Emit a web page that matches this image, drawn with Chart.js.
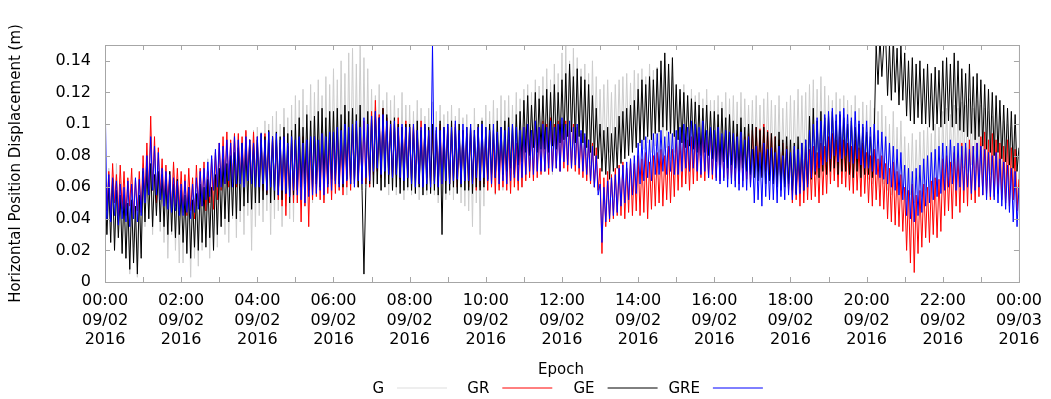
<!DOCTYPE html>
<html>
<head>
<meta charset="utf-8">
<script src="https://cdn.jsdelivr.net/npm/chart.js@4"></script>
<style>
  html, body { margin: 0; padding: 0; background: #fff; }
</style>
</head>
<body>
<canvas id="chart" width="1051" height="399"></canvas>
<script>
// one sample every 3 minutes from 09/02/2016 00:00 to 09/03/2016 00:00
const stepMinutes = 3;

// horizontal position displacement in mm
// (alternating local highs / lows of the noisy trace, one row per half hour)
const seriesG = [
  68,30,72,45,60,25,75,38,64,20,
  62,15,55,5,58,22,48,3,60,18,
  75,35,80,40,70,30,78,45,72,32,
  68,25,70,15,62,30,75,20,60,12,
  60,12,65,20,55,3,62,15,58,10,
  72,20,68,28,78,15,70,30,80,22,
  85,35,80,30,88,25,82,40,90,28,
  92,38,88,30,95,42,90,20,96,35,
  98,42,95,38,102,45,100,30,105,40,
  108,45,100,35,110,48,104,40,112,38,
  118,52,115,55,122,48,112,60,125,50,
  120,55,128,60,118,52,130,58,125,62,
  135,60,128,58,140,65,132,55,145,62,
  148,60,138,65,150,58,142,62,135,60,
  122,60,118,62,125,58,115,65,120,55,
  115,58,118,55,110,60,120,52,112,58,
  112,55,108,58,115,52,110,60,105,55,
  110,58,114,55,108,50,112,56,106,52,
  108,55,112,52,105,58,110,50,104,48,
  106,45,100,35,110,50,98,30,104,48,
  112,58,108,62,115,55,110,60,118,58,
  115,62,118,60,112,65,120,62,116,60,
  122,68,125,70,120,66,128,72,124,70,
  130,70,135,72,128,68,138,75,132,70,
  145,78,150,80,140,75,148,82,142,78,
  135,78,138,80,132,75,140,82,130,78,
  122,80,125,78,128,82,120,76,125,84,
  128,85,130,82,132,86,126,84,134,88,
  132,86,135,84,130,88,138,82,134,86,
  136,82,132,80,140,85,134,78,130,82,
  122,75,120,72,125,76,118,74,122,72,
  118,72,120,70,116,74,122,72,115,70,
  115,74,118,72,114,76,120,74,116,72,
  118,75,114,72,120,76,116,74,112,72,
  115,70,118,72,112,68,116,70,120,72,
  115,66,112,68,118,65,110,70,114,66,
  118,66,115,70,122,68,118,72,120,66,
  125,70,128,68,122,72,130,70,124,68,
  118,70,115,68,120,72,116,66,118,70,
  115,68,112,66,118,70,110,65,114,68,
  112,65,115,62,110,68,108,60,112,62,
  105,58,100,55,108,60,98,56,102,58,
  92,52,88,55,94,50,90,56,95,54,
  96,58,98,60,94,56,100,62,98,60,
  108,66,110,68,106,70,112,66,110,68,
  114,72,112,70,116,74,110,72,115,70,
  112,66,110,64,108,68,105,62,110,65,
  105,58,102,56,100,55,98,52,95,50,
  70
];

const seriesGR = [
  72,45,70,40,75,50,68,42,74,46,
  70,42,66,48,72,40,65,45,70,44,
  80,52,88,55,105,58,92,50,85,55,
  78,48,74,50,70,45,76,48,72,46,
  70,44,68,42,72,45,66,40,74,48,
  72,48,76,45,70,50,78,46,82,52,
  88,58,92,62,95,60,90,64,94,60,
  94,64,92,62,96,66,90,62,95,64,
  92,60,90,58,94,56,88,62,92,60,
  90,52,88,48,92,42,86,55,90,50,
  90,50,88,38,92,48,86,35,90,52,
  92,54,88,52,94,50,90,56,88,52,
  92,56,95,58,90,55,96,60,94,58,
  98,62,100,60,96,64,102,62,98,60,
  108,68,115,70,106,66,110,72,104,68,
  102,66,100,68,104,65,98,70,102,66,
  98,64,100,66,96,62,102,64,98,66,
  96,62,98,64,94,60,100,62,96,64,
  98,62,96,64,100,60,94,62,96,64,
  94,60,96,62,92,58,98,60,95,62,
  92,58,95,60,90,56,94,58,92,60,
  92,58,90,56,94,60,88,58,92,60,
  98,64,100,66,96,64,102,66,98,68,
  102,70,100,68,104,70,100,72,102,70,
  100,72,102,70,98,72,100,70,98,68,
  94,66,92,64,90,62,88,60,85,58,
  72,18,66,35,70,38,68,40,72,42,
  74,42,76,40,72,44,78,42,75,45,
  80,42,78,44,82,40,76,46,80,48,
  82,50,84,48,80,52,86,50,84,54,
  92,58,90,60,94,62,90,58,92,62,
  95,64,94,66,96,64,92,66,95,65,
  94,66,95,64,92,66,96,65,94,66,
  92,64,94,62,90,64,92,65,94,62,
  96,68,98,70,97,67,100,70,96,68,
  94,64,92,62,90,60,88,62,86,58,
  82,50,84,52,80,48,85,50,82,52,
  84,52,86,54,82,50,88,55,86,56,
  92,62,94,64,90,60,92,62,90,60,
  88,58,86,56,90,58,85,54,88,56,
  82,50,80,48,84,52,78,48,80,46,
  75,40,72,38,76,36,70,35,68,32,
  60,20,58,12,62,6,55,18,58,22,
  62,28,60,25,64,30,66,28,65,32,
  78,42,80,45,76,40,82,48,80,44,
  88,50,85,48,90,52,86,50,88,54,
  92,55,95,56,90,52,94,54,90,56,
  88,52,86,50,90,48,85,52,84,45,
  65
];

const seriesGE = [
  62,30,60,25,65,20,58,28,55,18,
  55,15,50,8,52,12,48,5,55,15,
  70,38,72,40,75,35,68,42,70,38,
  68,35,65,30,70,32,62,28,65,30,
  58,25,55,18,60,15,52,22,56,20,
  62,25,60,22,65,28,60,20,68,30,
  72,35,78,40,75,38,80,42,82,40,
  85,45,88,48,84,50,90,46,88,50,
  90,50,94,52,92,55,96,50,92,52,
  95,55,92,52,98,56,94,50,96,55,
  100,58,104,60,98,62,106,58,102,60,
  105,62,108,60,110,64,104,62,108,65,
  108,64,110,62,106,60,112,65,108,62,
  110,62,106,60,112,58,5,60,108,62,
  105,60,108,62,104,58,110,60,106,62,
  102,58,104,60,100,56,98,58,100,60,
  100,58,98,56,102,60,96,55,100,58,
  98,56,100,58,96,55,102,30,98,56,
  100,58,102,60,98,56,100,60,96,58,
  98,58,100,56,96,60,100,58,102,60,
  98,65,100,68,96,66,102,70,98,68,
  102,70,104,72,100,68,106,74,108,76,
  115,82,118,80,112,85,120,82,116,84,
  118,84,122,82,120,86,125,84,120,88,
  128,90,132,92,138,95,130,88,135,92,
  130,88,128,85,125,82,118,80,110,78,
  100,70,96,68,98,65,94,70,98,72,
  105,75,108,78,110,80,112,82,115,85,
  122,88,128,90,125,92,130,90,128,94,
  135,95,140,98,145,96,138,94,142,92,
  125,90,122,88,120,85,118,86,116,84,
  114,82,112,80,110,82,112,80,108,78,
  108,76,106,74,110,76,104,72,106,74,
  102,72,100,70,104,72,98,70,100,68,
  100,66,98,64,96,66,98,62,95,64,
  94,62,92,60,95,58,90,60,92,62,
  90,58,88,56,92,60,88,58,90,62,
  105,65,110,68,102,66,108,70,104,68,
  105,70,108,72,102,68,106,70,104,70,
  100,68,102,66,98,70,100,66,98,68,
  95,68,92,66,94,150,125,155,130,150,
  155,118,150,115,155,120,148,112,150,115,
  145,105,140,102,142,100,138,104,140,100,
  135,100,138,98,132,96,136,100,134,98,
  140,100,142,102,138,98,145,100,140,96,
  135,95,132,92,138,94,130,90,132,92,
  128,86,125,84,122,82,120,80,118,82,
  115,78,112,76,110,74,108,72,106,70,
  85
];

const seriesGRE = [
  122,40,68,38,66,42,64,36,62,40,
  60,38,64,35,62,40,66,38,65,42,
  72,50,80,55,92,58,86,55,82,52,
  72,48,70,46,68,44,66,45,64,42,
  62,42,64,44,60,40,62,44,66,46,
  70,48,72,52,76,54,80,58,84,60,
  88,60,86,62,90,64,88,60,92,62,
  90,62,88,60,92,64,90,62,88,60,
  92,60,94,62,90,58,95,60,92,58,
  94,55,90,58,92,56,88,54,92,58,
  90,55,92,52,88,50,90,54,92,55,
  92,56,90,58,94,55,92,60,95,58,
  95,62,98,60,96,62,100,64,98,62,
  100,60,102,64,98,62,104,66,100,64,
  105,70,108,72,104,68,106,70,102,68,
  100,66,102,68,98,66,100,64,98,66,
  98,62,100,60,96,62,98,60,100,62,
  96,60,150,62,98,60,96,62,98,64,
  100,62,98,64,102,65,96,62,100,64,
  98,64,100,62,96,66,98,64,100,66,
  98,64,96,62,100,66,95,62,98,64,
  96,62,98,64,100,66,98,64,96,66,
  98,68,100,70,96,68,102,70,98,70,
  100,70,98,72,102,70,98,72,100,70,
  104,76,100,74,102,72,98,74,100,72,
  96,70,94,68,90,64,86,60,80,55,
  62,25,60,38,64,40,66,42,68,44,
  72,48,74,50,76,52,78,55,80,56,
  88,62,90,64,92,66,90,64,94,68,
  94,68,96,70,92,68,95,70,94,68,
  96,68,98,70,100,72,98,70,102,72,
  100,70,98,68,102,70,96,66,98,68,
  96,64,98,62,94,64,96,60,95,62,
  94,60,92,58,95,60,90,58,92,60,
  84,50,86,52,82,48,88,54,84,52,
  85,52,82,50,86,54,80,52,84,55,
  82,52,86,55,84,56,88,58,90,60,
  96,66,100,70,104,72,102,74,106,76,
  108,78,110,80,106,76,108,78,110,80,
  106,76,104,75,108,78,102,74,100,72,
  102,72,98,70,100,68,96,66,95,65,
  92,62,88,60,86,58,84,55,82,52,
  74,42,72,40,70,38,72,42,74,44,
  78,48,80,50,82,52,84,54,86,56,
  88,58,86,60,90,62,86,58,88,60,
  86,58,88,60,84,56,86,58,88,60,
  86,55,84,52,82,54,80,52,82,50,
  78,48,76,46,74,44,72,38,70,35,
  60
];

const seriesNames = ['G', 'GR', 'GE', 'GRE'];
const seriesColors = ['#cccccc', '#ff0000', '#000000', '#0000ff'];
const keyColors = ['#dddddd', '#ff0000', '#000000', '#0000ff'];

// x tick labels every two hours
const timeLabels = ['00:00','02:00','04:00','06:00','08:00','10:00','12:00','14:00','16:00','18:00','20:00','22:00','00:00'];
const dateLabels = ['09/02','09/02','09/02','09/02','09/02','09/02','09/02','09/02','09/02','09/02','09/02','09/02','09/03'];
const yearLabels = ['2016','2016','2016','2016','2016','2016','2016','2016','2016','2016','2016','2016','2016'];

const yTitle = 'Horizontal Position Displacement (m)';
const xTitle = 'Epoch';

function toPoints(values) {
  return values.map((v, i) => ({ x: i * stepMinutes, y: v / 1000 }));
}

// gnuplot style frame: inward ticks on all four sides, titles and key below
const framePlugin = {
  id: 'frame',
  afterDraw(chart) {
    const ctx = chart.ctx;
    const a = chart.chartArea;
    const x = chart.scales.x;
    const y = chart.scales.y;
    ctx.save();
    ctx.strokeStyle = '#a6a6a6';
    ctx.lineWidth = 1;
    ctx.strokeRect(a.left + 0.5, a.top + 0.5, a.right - a.left, a.bottom - a.top);
    ctx.beginPath();
    x.ticks.forEach(t => {
      const px = Math.round(x.getPixelForValue(t.value)) + 0.5;
      ctx.moveTo(px, a.bottom); ctx.lineTo(px, a.bottom - 5);
      ctx.moveTo(px, a.top); ctx.lineTo(px, a.top + 5);
    });
    y.ticks.forEach(t => {
      if (t.value > 0.145) return;
      const py = Math.round(y.getPixelForValue(t.value)) + 0.5;
      ctx.moveTo(a.left, py); ctx.lineTo(a.left + 5, py);
      ctx.moveTo(a.right, py); ctx.lineTo(a.right - 5, py);
    });
    ctx.stroke();

    ctx.fillStyle = '#000';
    ctx.font = '15px "DejaVu Sans"';
    ctx.textAlign = 'center';
    ctx.textBaseline = 'middle';
    ctx.save();
    ctx.translate(16, (a.top + a.bottom) / 2);
    ctx.rotate(-Math.PI / 2);
    ctx.fillText(yTitle, 0, 0);
    ctx.restore();
    ctx.fillText(xTitle, (a.left + a.right) / 2 - 1, 370);

    // key: label then line sample
    ctx.textAlign = 'right';
    seriesNames.forEach((name, i) => {
      const lineStart = 397 + 105.3 * i;
      ctx.fillStyle = '#000';
      ctx.fillText(name, lineStart - 13, 389);
      ctx.strokeStyle = keyColors[i];
      ctx.beginPath();
      ctx.moveTo(lineStart, 388);
      ctx.lineTo(lineStart + 50, 388);
      ctx.stroke();
    });
    ctx.restore();
  }
};

const allSeries = [seriesG, seriesGR, seriesGE, seriesGRE];

new Chart(document.getElementById('chart').getContext('2d'), {
  type: 'line',
  data: {
    datasets: allSeries.map((s, i) => ({
      label: seriesNames[i],
      data: toPoints(s),
      borderColor: seriesColors[i],
      borderWidth: 1,
      pointRadius: 0,
      tension: 0,
      fill: false,
      order: allSeries.length - i   // GRE drawn last, on top
    }))
  },
  options: {
    responsive: false,
    animation: false,
    devicePixelRatio: 1,
    layout: { padding: { left: 0, top: 45, right: 31, bottom: 0 } },
    plugins: {
      legend: { display: false },
      tooltip: { enabled: false }
    },
    scales: {
      x: {
        type: 'linear',
        min: 0,
        max: 1440,
        grid: { display: false, drawTicks: false },
        border: { display: false },
        afterFit: s => { s.height = 117; },
        ticks: {
          stepSize: 60,
          autoSkip: false,
          maxRotation: 0,
          padding: 9,
          color: '#000',
          font: { family: 'DejaVu Sans', size: 16, lineHeight: 1.23 },
          callback: v => {
            if (v % 120 !== 0) return '';
            const k = v / 120;
            return [timeLabels[k], dateLabels[k], yearLabels[k]];
          }
        }
      },
      y: {
        min: 0,
        max: 0.15,
        grid: { display: false, drawTicks: false },
        border: { display: false },
        afterFit: s => { s.width = 105; },
        ticks: {
          stepSize: 0.02,
          includeBounds: false,
          padding: 14,
          color: '#000',
          font: { family: 'DejaVu Sans', size: 16 },
          callback: v => v > 0.145 ? '' : String(parseFloat(v.toFixed(2)))
        }
      }
    }
  },
  plugins: [framePlugin]
});
</script>
</body>
</html>
